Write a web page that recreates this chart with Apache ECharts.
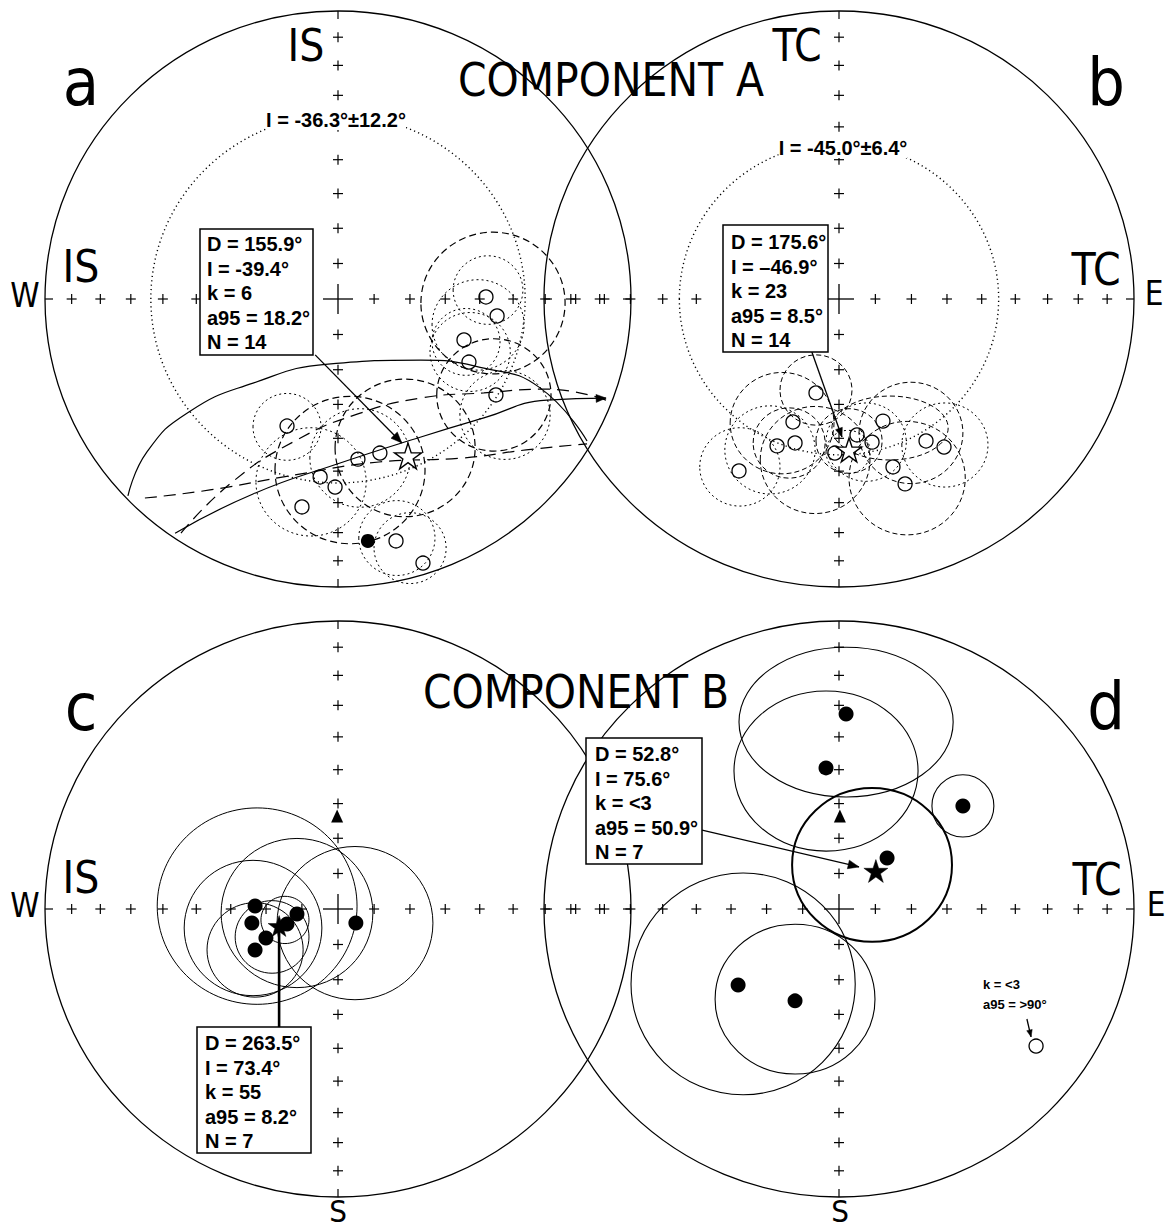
<!DOCTYPE html>
<html>
<head>
<meta charset="utf-8">
<title>Component A / Component B</title>
<script src="https://cdn.jsdelivr.net/npm/echarts@6.0.0/dist/echarts.min.js"></script>
<style>
  html, body { margin: 0; padding: 0; background: #fff; }
  #chart { width: 1165px; height: 1230px; }
</style>
</head>
<body>
<div id="chart"></div>
<script>
// equal-area net, all coords are [east, north] divided by the net radius

// 10 degree ticks along the axes
var tickIncs = [10, 20, 30, 40, 50, 60, 70, 80];

// ---- a : component A, in situ ----
var sitesOpenA = [[0.505, 0.007], [0.543, -0.059], [0.430, -0.142], [0.447, -0.219], [0.539, -0.333],
  [-0.174, -0.441], [0.143, -0.535], [0.068, -0.556], [-0.061, -0.618], [-0.010, -0.653],
  [-0.123, -0.722], [0.198, -0.840], [0.290, -0.917]];
var sitesFilledA = [[0.102, -0.840]];
var meanA = [[0.239, -0.545]];
var incOnlyA = [36.3];
var a95DashA = [[0.529, -0.014, 0.246, 0.246], [0.532, -0.333, 0.195, 0.195],
  [0.229, -0.517, 0.239, 0.239], [0.041, -0.594, 0.256, 0.256]];
var a95DotA = [[0.512, 0.031, 0.119, 0.119], [0.437, -0.149, 0.116, 0.116], [0.451, -0.184, 0.137, 0.137],
  [0.478, -0.090, 0.157, 0.157], [-0.174, -0.444, 0.116, 0.116], [-0.092, -0.635, 0.188, 0.188],
  [0.201, -0.830, 0.130, 0.130], [0.246, -0.865, 0.123, 0.123], [0.075, -0.552, 0.171, 0.171],
  [0.570, -0.403, 0.154, 0.154]];
var beddingSolidA = [[-0.717, -0.684], [-0.652, -0.531], [-0.509, -0.392], [-0.290, -0.292], [-0.034, -0.226],
  [0.283, -0.212], [0.498, -0.240], [0.686, -0.306], [0.850, -0.493]];
var pathSolidA = [[-0.556, -0.813], [-0.290, -0.677], [-0.003, -0.573], [0.283, -0.479], [0.498, -0.413],
  [0.713, -0.351], [0.915, -0.344]];
var beddingDashA = [[-0.659, -0.691], [-0.437, -0.663], [-0.147, -0.611], [0.140, -0.566], [0.427, -0.552],
  [0.642, -0.524], [0.850, -0.503]];
var pathDashA = [[-0.536, -0.813], [-0.365, -0.639], [-0.147, -0.493], [0.068, -0.399], [0.283, -0.344],
  [0.498, -0.326], [0.713, -0.313], [0.915, -0.351]];
var statsA = ['D = 155.9°', 'I = -39.4°', 'k = 6', 'a95 = 18.2°', 'N = 14'];

// ---- b : component A, tilt corrected ----
var sitesOpenB = [[-0.078, -0.326], [-0.156, -0.427], [-0.210, -0.510], [-0.149, -0.500], [-0.339, -0.597],
  [0.149, -0.424], [0.061, -0.472], [0.112, -0.497], [-0.014, -0.535], [0.183, -0.583],
  [0.224, -0.642], [0.295, -0.493], [0.356, -0.514]];
var meanB = [[0.034, -0.524]];
var incOnlyB = [45.0];
var a95DashB = [[-0.193, -0.431, 0.176, 0.176], [-0.078, -0.316, 0.122, 0.122], [-0.169, -0.500, 0.122, 0.122],
  [0.034, -0.493, 0.112, 0.112], [0.244, -0.465, 0.176, 0.176], [0.231, -0.622, 0.197, 0.197],
  [0.173, -0.448, 0.197, 0.111], [-0.081, -0.559, 0.186, 0.186]];
var a95DotB = [[-0.336, -0.583, 0.136, 0.136], [-0.234, -0.524, 0.153, 0.153], [0.359, -0.507, 0.146, 0.146],
  [0.092, -0.497, 0.136, 0.136], [0.031, -0.531, 0.075, 0.075]];
var statsB = ['D = 175.6°', 'I = –46.9°', 'k = 23', 'a95 = 8.5°', 'N = 14'];

// ---- c : component B, in situ ----
var sitesFilledC = [[-0.283, 0.010], [-0.294, -0.049], [-0.246, -0.101], [-0.283, -0.142],
  [-0.140, -0.017], [-0.174, -0.052], [0.061, -0.049]];
var meanC = [[-0.201, -0.059]];
var triC = [[-0.003, 0.323]];
var a95C = [[-0.276, 0.010, 0.341, 0.341], [-0.290, -0.066, 0.235, 0.235], [-0.140, -0.014, 0.259, 0.259],
  [0.058, -0.049, 0.266, 0.266], [-0.283, -0.142, 0.164, 0.164], [-0.225, -0.097, 0.126, 0.126],
  [-0.181, -0.038, 0.082, 0.082]];
var statsC = ['D = 263.5°', 'I = 73.4°', 'k = 55', 'a95 = 8.2°', 'N = 7'];

// ---- d : component B, tilt corrected ----
var sitesFilledD = [[0.024, 0.677], [-0.044, 0.490], [0.420, 0.358], [0.163, 0.177], [-0.342, -0.264], [-0.149, -0.319]];
var sitesOpenD = [[0.668, -0.476]];
var meanD = [[0.125, 0.132]];
var triD = [[0.003, 0.323]];
var a95D = [[0.024, 0.649, 0.363, 0.260], [-0.044, 0.479, 0.312, 0.278], [0.420, 0.358, 0.105, 0.108],
  [-0.325, -0.260, 0.380, 0.385], [-0.149, -0.313, 0.271, 0.260]];
var a95MeanD = [[0.112, 0.153, 0.271, 0.267]];
var statsD = ['D = 52.8°', 'I = 75.6°', 'k = <3', 'a95 = 50.9°', 'N = 7'];
var outlierD = ['k = <3', 'a95 = >90°'];

// leader lines [x1, y1, x2, y2]
var leaderA = [[-0.078, -0.194, 0.218, -0.500]];
var leaderB = [[-0.092, -0.184, 0.010, -0.479]];
var leaderC = [[-0.201, -0.410, -0.201, -0.059]];
var leaderD = [[-0.464, 0.274, 0.068, 0.146]];
var leaderD2 = [[0.637, -0.382, 0.651, -0.444]];

var FN = '"Liberation Sans Narrow", "DejaVu Sans Condensed", "Noto Sans", sans-serif';
var FB = '"Liberation Sans", Arial, "DejaVu Sans", sans-serif';
var STAR = 'path://M50,0L61.2,34.5L97.6,34.5L68.2,55.9L79.4,90.5L50,69.1L20.6,90.5L31.8,55.9L2.4,34.5L38.8,34.5Z';

var grids = [
  { left: 45, top: 11, width: 586, height: 576 },
  { left: 544, top: 11, width: 590, height: 576 },
  { left: 45, top: 621, width: 586, height: 576 },
  { left: 544, top: 621, width: 590, height: 576 }
];

function eqArea(inc) {
  return Math.SQRT2 * Math.sin((90 - Math.abs(inc)) / 2 * Math.PI / 180);
}

function seg(x1, y1, x2, y2, w) {
  return { type: 'line', shape: { x1: x1, y1: y1, x2: x2, y2: y2 }, style: { stroke: '#000', lineWidth: w || 1.2 } };
}

function renderNet(params, api) {
  var c = api.coord([0, 0]);
  var s = api.size([1, 1]);
  var rx = s[0], ry = s[1], t = 8, m = 15;
  return {
    type: 'group',
    children: [
      { type: 'ellipse', shape: { cx: c[0], cy: c[1], rx: rx, ry: ry }, style: { fill: 'none', stroke: '#000', lineWidth: 1.3 } },
      seg(c[0] - rx, c[1], c[0] - rx + t, c[1]),
      seg(c[0] + rx, c[1], c[0] + rx - t, c[1]),
      seg(c[0], c[1] - ry, c[0], c[1] - ry + t),
      seg(c[0], c[1] + ry, c[0], c[1] + ry - t),
      seg(c[0] - m, c[1], c[0] + m, c[1], 1.3),
      seg(c[0], c[1] - m, c[0], c[1] + m, 1.3)
    ]
  };
}

function renderCross(params, api) {
  var p = api.coord([api.value(0), api.value(1)]);
  var a = 5;
  return { type: 'group', children: [seg(p[0] - a, p[1], p[0] + a, p[1]), seg(p[0], p[1] - a, p[0], p[1] + a)] };
}

var crossData = [];
tickIncs.forEach(function (inc) {
  var r = eqArea(inc);
  crossData.push([r, 0], [-r, 0], [0, r], [0, -r]);
});

function ringRender(dash, width) {
  return function (params, api) {
    var c = api.coord([api.value(0), api.value(1)]);
    var s = api.size([api.value(2), api.value(3)]);
    return {
      type: 'ellipse',
      shape: { cx: c[0], cy: c[1], rx: s[0], ry: s[1] },
      style: { fill: 'none', stroke: '#000', lineWidth: width, lineDash: dash }
    };
  };
}

function incRender(params, api) {
  var r = eqArea(api.value(0));
  var c = api.coord([0, 0]);
  var s = api.size([r, r]);
  return {
    type: 'ellipse',
    shape: { cx: c[0], cy: c[1], rx: s[0], ry: s[1] },
    style: { fill: 'none', stroke: '#000', lineWidth: 1.4, lineDash: [1.2, 3.2] }
  };
}

function arrowRender(head, width) {
  return function (params, api) {
    var p = api.coord([api.value(0), api.value(1)]);
    var q = api.coord([api.value(2), api.value(3)]);
    var ch = [];
    if (width > 0) ch.push(seg(p[0], p[1], q[0], q[1], width));
    if (head > 0) {
      var ang = Math.atan2(q[1] - p[1], q[0] - p[0]);
      var w = head * 0.4, cs = Math.cos(ang), sn = Math.sin(ang);
      ch.push({
        type: 'polygon',
        shape: { points: [[q[0], q[1]],
          [q[0] - head * cs + w * sn, q[1] - head * sn - w * cs],
          [q[0] - head * cs - w * sn, q[1] - head * sn + w * cs]] },
        style: { fill: '#000', stroke: '#000', lineWidth: 0.5 }
      });
    }
    return { type: 'group', children: ch };
  };
}

var series = [];
function add(g, s) {
  s.xAxisIndex = g;
  s.yAxisIndex = g;
  s.silent = true;
  series.push(s);
}

function net(g) {
  add(g, { type: 'custom', data: [[0, 0]], renderItem: renderNet, z: 1 });
  add(g, { type: 'custom', data: crossData, renderItem: renderCross, z: 1 });
}
function rings(g, data, dash, width) {
  add(g, { type: 'custom', data: data, renderItem: ringRender(dash, width), z: 2 });
}
function incCircle(g, data) {
  add(g, { type: 'custom', data: data.map(function (v) { return [v]; }), renderItem: incRender, z: 2 });
}
function curve(g, data, dash) {
  add(g, { type: 'line', data: data, smooth: true, symbol: 'none', z: 3,
    lineStyle: { color: '#000', width: 1.2, type: dash || 'solid' } });
}
function arrows(g, data, head, width) {
  add(g, { type: 'custom', data: data, renderItem: arrowRender(head, width), z: 6 });
}
function points(g, data, filled, size) {
  add(g, { type: 'scatter', data: data, symbol: 'circle', symbolSize: size, z: 5,
    itemStyle: { opacity: 1, color: filled ? '#000' : 'rgba(255,255,255,0)', borderColor: '#000', borderWidth: filled ? 0 : 1.3 } });
}
function star(g, data, filled, size) {
  add(g, { type: 'scatter', data: data, symbol: STAR, symbolSize: size, symbolKeepAspect: true, z: 7,
    itemStyle: { opacity: 1, color: filled ? '#000' : '#fff', borderColor: '#000', borderWidth: filled ? 0.5 : 1.4 } });
}
function tri(g, data) {
  add(g, { type: 'scatter', data: data, symbol: 'triangle', symbolSize: [12, 13], z: 5,
    itemStyle: { opacity: 1, color: '#000' } });
}

// a
net(0);
incCircle(0, incOnlyA);
rings(0, a95DotA, [2, 3], 1);
rings(0, a95DashA, [7, 4], 1.2);
curve(0, beddingSolidA);
curve(0, pathSolidA);
curve(0, beddingDashA, [12, 7]);
curve(0, pathDashA, [12, 7]);
arrows(0, [pathSolidA[pathSolidA.length - 2].concat(pathSolidA[pathSolidA.length - 1])], 10, 0);
points(0, sitesOpenA, false, 14);
points(0, sitesFilledA, true, 14);
arrows(0, leaderA, 11, 1.3);
star(0, meanA, false, 27);

// b
net(1);
incCircle(1, incOnlyB);
rings(1, a95DotB, [2, 3], 1);
rings(1, a95DashB, [5, 3], 1);
points(1, sitesOpenB, false, 14);
arrows(1, leaderB, 9, 1.3);
star(1, meanB, false, 25);

// c
net(2);
rings(2, a95C, null, 1);
tri(2, triC);
points(2, sitesFilledC, true, 15);
arrows(2, leaderC, 0, 2.6);
star(2, meanC, true, 22);

// d
net(3);
rings(3, a95D, null, 1.1);
rings(3, a95MeanD, null, 2);
tri(3, triD);
points(3, sitesFilledD, true, 15);
points(3, sitesOpenD, false, 14);
arrows(3, leaderD, 11, 1.3);
arrows(3, leaderD2, 7, 1.3);
star(3, meanD, true, 24);

// texts
var elements = [];
function txt(text, x, y, size, family, weight, align, extra) {
  var style = { text: text, fontSize: size, fontFamily: family, fontWeight: weight || 'normal', fill: '#000',
    textAlign: align || 'center', align: align || 'center', textVerticalAlign: 'middle', verticalAlign: 'middle' };
  if (extra) for (var k in extra) style[k] = extra[k];
  elements.push({ type: 'text', x: x, y: y, z: 100, silent: true, style: style });
}
function box(lines, x, y, w, h, tx, ty) {
  elements.push({ type: 'rect', z: 99, silent: true, shape: { x: x, y: y, width: w, height: h },
    style: { fill: '#fff', stroke: '#000', lineWidth: 1.5 } });
  lines.forEach(function (s, i) { txt(s, tx, ty + i * 24.6, 20, FB, 'bold', 'left'); });
}

txt('a', 81, 82, 66, FN);
txt('b', 1106, 82, 66, FN);
txt('c', 81, 707, 66, FN);
txt('d', 1106, 706, 66, FN);
txt('COMPONENT A', 611, 80, 45.5, FN);
txt('COMPONENT B', 576, 692, 45.5, FN);
txt('IS', 306, 45, 44, FN);
txt('TC', 797, 45, 44, FN);
txt('IS', 81, 266, 44, FN);
txt('TC', 1096, 269, 44, FN);
txt('IS', 81, 877, 44, FN);
txt('TC', 1097, 879, 44, FN);
txt('W', 25, 295, 33, FN);
txt('W', 25, 905, 33, FN);
txt('E', 1154, 293, 33, FN);
txt('E', 1156, 904, 33, FN);
txt('S', 338, 1211, 31, FN);
txt('S', 840, 1211, 31, FN);
txt('I = -' + incOnlyA[0].toFixed(1) + '°±12.2°', 336, 120, 20, FB, 'bold', 'center', { backgroundColor: '#fff' });
txt('I = -' + incOnlyB[0].toFixed(1) + '°±6.4°', 843, 148, 20, FB, 'bold', 'center', { backgroundColor: '#fff' });
box(statsA, 200, 229, 113, 126, 207, 244);
box(statsB, 723, 225, 105, 127, 731, 242);
box(statsC, 197, 1027, 114, 126, 205, 1043);
box(statsD, 586, 738, 116, 126, 595, 754);
txt(outlierD[0], 983, 984, 13, FB, 'bold', 'left');
txt(outlierD[1], 983, 1004, 13, FB, 'bold', 'left');

var chart = echarts.init(document.getElementById('chart'), null, { renderer: 'svg' });
chart.setOption({
  animation: false,
  backgroundColor: '#fff',
  grid: grids,
  xAxis: grids.map(function (g, i) { return { gridIndex: i, type: 'value', min: -1, max: 1, show: false }; }),
  yAxis: grids.map(function (g, i) { return { gridIndex: i, type: 'value', min: -1, max: 1, show: false }; }),
  series: series,
  graphic: { elements: elements }
});
</script>
</body>
</html>
